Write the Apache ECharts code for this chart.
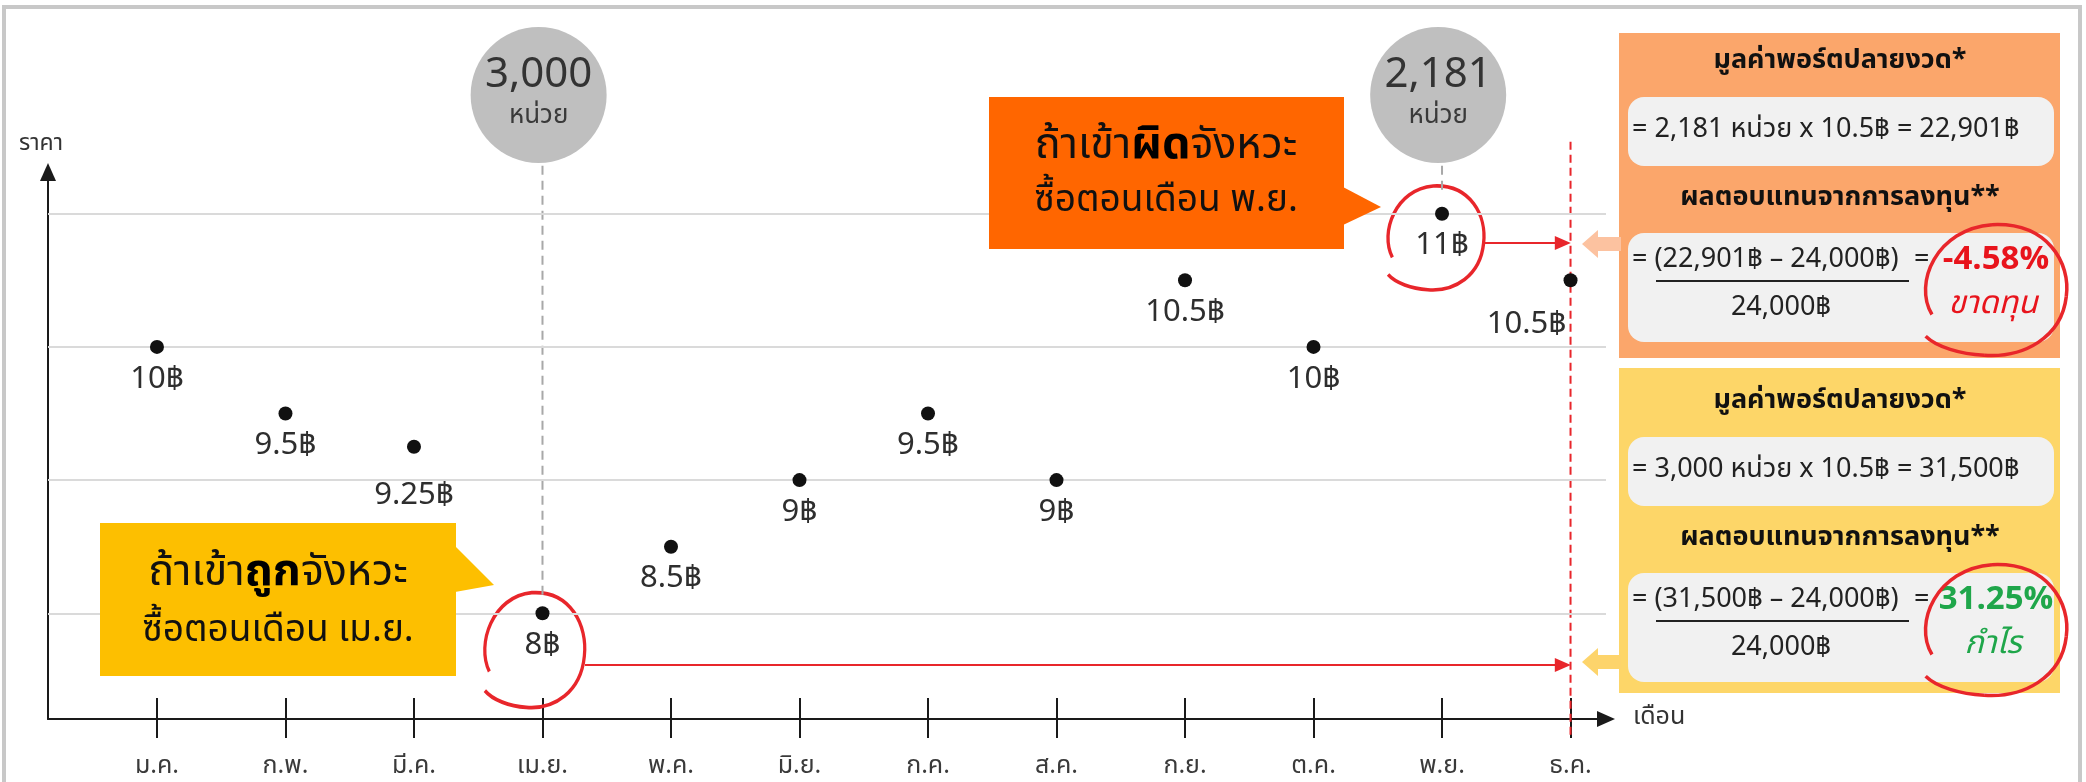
<!DOCTYPE html>
<html>
<head>
<meta charset="utf-8">
<script src="https://cdn.jsdelivr.net/npm/echarts@6/dist/echarts.min.js"></script>
<style>
  html, body { margin: 0; padding: 0; background: #fff; }
  #chart { width: 2086px; height: 782px; }
</style>
</head>
<body>
<div id="chart"></div>
<script>
// chart data
const months = ['ม.ค.', 'ก.พ.', 'มี.ค.', 'เม.ย.', 'พ.ค.', 'มิ.ย.', 'ก.ค.', 'ส.ค.', 'ก.ย.', 'ต.ค.', 'พ.ย.', 'ธ.ค.']
const prices = [10, 9.5, 9.25, 8, 8.5, 9, 9.5, 9, 10.5, 10, 11, 10.5]
const gridValues = [8, 9, 10, 11]
const buyMonths = [3, 10]            // เม.ย. / พ.ย.
const buyUnits = ['3,000', '2,181']
const sellMonth = 11                 // ธ.ค.

const FONT = "'Noto Sans Thai', 'Noto Sans', 'Liberation Sans', sans-serif"
const monthIdx = months.map((m, i) => i)
const xMin = -0.848, xMax = 11.276
const yMin = 7.2065, yMax = 11.313
const axisColor = '#1a1a1a'
const red = '#e8262b'

const chart = echarts.init(document.getElementById('chart'))

// per point label tweaks (9.25 sits lower, Dec label goes left)
const dots = prices.map((v, i) => {
  const item = { value: [i, v] }
  if (i === 2) item.label = { offset: [0, 16] }
  if (i === 11) item.label = { offset: [-44, 12] }
  return item
})

// open hand drawn loop, 4 cubic segments in a 100x100 box
const loopSegs = [
  [12, 68, 0, 45, 15, 5, 50, 2],
  [50, 2, 85, 0, 100, 30, 97, 55],
  [97, 55, 94, 85, 70, 100, 45, 98],
  [45, 98, 30, 97, 15, 92, 8, 84]
]
const loopPath = 'path://M12,68 C0,45 15,5 50,2 C85,0 100,30 97,55 C94,85 70,100 45,98 C30,97 15,92 8,84'

function loop(x, y, w, h) {
  return loopSegs.map(s => ({
    type: 'bezierCurve', z: 65,
    shape: {
      x1: x + s[0] * w / 100, y1: y + s[1] * h / 100,
      cpx1: x + s[2] * w / 100, cpy1: y + s[3] * h / 100,
      cpx2: x + s[4] * w / 100, cpy2: y + s[5] * h / 100,
      x2: x + s[6] * w / 100, y2: y + s[7] * h / 100
    },
    style: { fill: 'none', stroke: red, lineWidth: 3.5 }
  }))
}

function text(x, y, str, size, opts) {
  opts = opts || {}
  return {
    type: 'text', x: x, y: y, z: 60,
    style: {
      text: str,
      fill: opts.color || '#222',
      font: (opts.style || '') + ' ' + (opts.weight || 'normal') + ' ' + size + 'px ' + FONT,
      textAlign: opts.align || 'center',
      textVerticalAlign: 'middle'
    }
  }
}

function panel(top, dy, fill, arrowY, arrowFill, a, b, c, result, word, resultColor) {
  return [
    { type: 'rect', z: 50, shape: { x: 1619, y: top, width: 441, height: 325 }, style: { fill: fill } },
    { type: 'polygon', z: 50, shape: { points: [[1582, arrowY], [1598, arrowY - 14], [1598, arrowY - 7], [1621, arrowY - 7], [1621, arrowY + 7], [1598, arrowY + 7], [1598, arrowY + 14]] }, style: { fill: arrowFill } },
    text(1840, 63 + dy, 'มูลค่าพอร์ตปลายงวด*', 27, { weight: 'bold', color: '#111' }),
    { type: 'rect', z: 55, shape: { x: 1628, y: 97 + dy, width: 426, height: 69, r: 16 }, style: { fill: '#f1f1f1' } },
    text(1632, 132 + dy, '= ' + a, 27, { align: 'left' }),
    text(1840, 200 + dy, 'ผลตอบแทนจากการลงทุน**', 27, { weight: 'bold', color: '#111' }),
    { type: 'rect', z: 55, shape: { x: 1628, y: 233 + dy, width: 426, height: 109, r: 16 }, style: { fill: '#f1f1f1' } },
    text(1632, 262 + dy, '= ' + b, 27, { align: 'left' }),
    { type: 'line', z: 60, shape: { x1: 1656, y1: 281 + dy, x2: 1909, y2: 281 + dy }, style: { stroke: '#222', lineWidth: 2 } },
    text(1781, 310 + dy, c, 27),
    text(1914, 262 + dy, '=', 27, { align: 'left' }),
    text(1996, 262 + dy, result, 33, { color: resultColor, weight: 'bold' }),
    text(1993, 307 + dy, word, 32, { color: resultColor, style: 'italic' })
  ].concat(loop(1913, 222 + dy, 158, 136))
}

const richCallout = {
  n: { fontSize: 43, fontFamily: FONT, fill: '#111' },
  b: { fontSize: 45, fontWeight: 'bold', fontFamily: FONT, fill: '#000' }
}

const graphics = [
  { type: 'rect', z: 0, shape: { x: 4, y: 7, width: 2076, height: 800 }, style: { fill: 'none', stroke: '#c8c8c8', lineWidth: 4 } },
  // yellow callout
  { type: 'rect', z: 50, shape: { x: 100, y: 523, width: 356, height: 153 }, style: { fill: '#fdbf00' } },
  { type: 'polygon', z: 50, shape: { points: [[455, 546], [494, 585], [455, 592]] }, style: { fill: '#fdbf00' } },
  {
    type: 'text', x: 278, y: 576, z: 60,
    style: { text: '{n|ถ้าเข้า}{b|ถูก}{n|จังหวะ}', textAlign: 'center', textVerticalAlign: 'middle', rich: richCallout }
  },
  text(278, 634, 'ซื้อตอนเดือน เม.ย.', 37, { color: '#111' }),
  // orange callout
  { type: 'rect', z: 50, shape: { x: 989, y: 97, width: 355, height: 152 }, style: { fill: '#ff6600' } },
  { type: 'polygon', z: 50, shape: { points: [[1343, 187], [1381, 207], [1343, 225]] }, style: { fill: '#ff6600' } },
  {
    type: 'text', x: 1166, y: 149, z: 60,
    style: { text: '{n|ถ้าเข้า}{b|ผิด}{n|จังหวะ}', textAlign: 'center', textVerticalAlign: 'middle', rich: richCallout }
  },
  text(1166, 204, 'ซื้อตอนเดือน พ.ย.', 37, { color: '#111' })
].concat(
  panel(33, 0, '#fba66b', 244, '#fcc2a0', '2,181 หน่วย x 10.5฿ = 22,901฿', '(22,901฿ – 24,000฿)', '24,000฿', '-4.58%', 'ขาดทุน', '#e8141c'),
  panel(368, 340, '#fdd668', 662, '#fdd46b', '3,000 หน่วย x 10.5฿ = 31,500฿', '(31,500฿ – 24,000฿)', '24,000฿', '31.25%', 'กำไร', '#1fa64a')
)

const option = {
  animation: false,
  backgroundColor: '#fff',
  textStyle: { fontFamily: FONT },
  grid: { left: 48, right: 2086 - 1606, top: 172, bottom: 782 - 719 },
  xAxis: [{
    type: 'value', min: xMin, max: xMax,
    name: 'เดือน', nameLocation: 'end', nameGap: 27,
    nameTextStyle: { fontSize: 25, color: '#333', align: 'left', verticalAlign: 'middle' },
    axisLine: { show: true, onZero: false, symbol: ['none', 'triangle'], symbolSize: [16, 18], lineStyle: { color: axisColor, width: 2 } },
    axisTick: { show: true, customValues: monthIdx, length: 19, lineStyle: { color: axisColor, width: 2 } },
    axisLabel: { show: true, customValues: monthIdx, margin: 36, fontSize: 25, color: '#3a3a3a', formatter: v => months[v] },
    splitLine: { show: false }
  }, {
    type: 'value', min: xMin, max: xMax, position: 'bottom',
    axisLine: { show: false, onZero: false },
    axisTick: { show: true, inside: true, customValues: monthIdx, length: 21, lineStyle: { color: axisColor, width: 2 } },
    axisLabel: { show: false },
    splitLine: { show: false }
  }],
  yAxis: {
    type: 'value', min: yMin, max: yMax,
    name: 'ราคา', nameLocation: 'end', nameGap: 27,
    nameTextStyle: { fontSize: 23, color: '#333', verticalAlign: 'middle', padding: [0, 14, 0, 0] },
    axisLine: { show: true, onZero: false, symbol: ['none', 'triangle'], symbolSize: [16, 18], lineStyle: { color: axisColor, width: 2 } },
    axisTick: { show: false },
    axisLabel: { show: false },
    splitLine: { show: false }
  },
  graphic: graphics,
  series: [
    {
      // gridlines + red arrows
      type: 'line', data: [], silent: true,
      markLine: {
        silent: true, symbol: 'none', label: { show: false },
        lineStyle: { color: '#dadada', width: 2, type: 'solid' },
        data: gridValues.map(v => ({ yAxis: v })).concat([
          [{ coord: [3.33, 7.612], symbol: 'none', lineStyle: { color: red, width: 2 } },
           { coord: [sellMonth - 0.06, 7.612], symbol: 'triangle', symbolSize: [14, 16] }],
          [{ coord: [10.32, 10.78], symbol: 'none', lineStyle: { color: red, width: 2 } },
           { coord: [sellMonth - 0.06, 10.78], symbol: 'triangle', symbolSize: [14, 16] }]
        ])
      }
    },
    {
      type: 'line', data: [[buyMonths[0], 11.36], [buyMonths[0], 8.12]], clip: false, symbol: 'none', silent: true,
      lineStyle: { color: '#a8a8a8', width: 2, type: [9, 6] }
    },
    {
      type: 'line', data: [[buyMonths[1], 11.36], [buyMonths[1], 11.18]], clip: false, symbol: 'none', silent: true,
      lineStyle: { color: '#a8a8a8', width: 2, type: [9, 6] }
    },
    {
      type: 'line', data: [[sellMonth, 11.54], [sellMonth, 7.05]], clip: false, symbol: 'none', silent: true,
      lineStyle: { color: red, width: 2, type: [8, 5] }
    },
    {
      // units bought bubbles
      type: 'scatter', clip: false, silent: true, symbolSize: 136,
      itemStyle: { color: '#bfbfbf', opacity: 1 },
      data: buyMonths.map((m, k) => ({ value: [m - 0.03, 11.891], units: buyUnits[k] })),
      label: {
        show: true, position: 'inside',
        formatter: p => '{a|' + p.data.units + '}\n{b|หน่วย}',
        rich: { a: { fontSize: 42, color: '#333', lineHeight: 46 }, b: { fontSize: 26, color: '#3a3a3a', lineHeight: 32 } }
      }
    },
    {
      // hand drawn red loops
      type: 'scatter', clip: false, silent: true, symbol: loopPath,
      itemStyle: { color: 'rgba(0,0,0,0)', borderColor: red, borderWidth: 3.5, opacity: 1 },
      data: [
        { value: [2.94, 7.724], symbolSize: [100, 115] },
        { value: [9.953, 10.818], symbolSize: [96, 104] }
      ]
    },
    {
      type: 'scatter', symbolSize: 14, z: 5,
      itemStyle: { color: '#111', opacity: 1 },
      data: dots,
      label: {
        show: true, position: 'bottom', distance: 12,
        fontSize: 31, color: '#2e2e2e',
        formatter: p => p.value[1] + '฿'
      }
    }
  ]
}

chart.setOption(option)
</script>
</body>
</html>
